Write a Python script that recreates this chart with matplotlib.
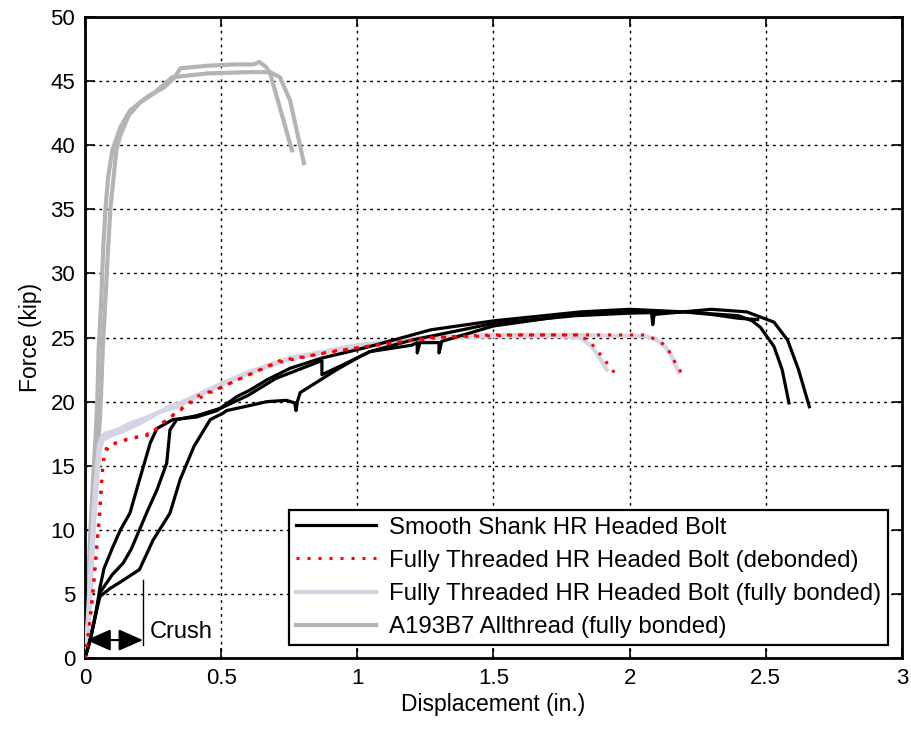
#!/usr/bin/env python

"""Force vs displacement for headed bolt and allthread pullout tests.
"""

import matplotlib
matplotlib.use('Agg')
import matplotlib.pyplot as plt

# Smooth shank HR headed bolt (three tests)
smooth_a_x = [0, 0.02, 0.04, 0.055, 0.07, 0.103, 0.13, 0.165, 0.2, 0.24, 0.264,
              0.323, 0.41, 0.485, 0.558, 0.606, 0.668, 0.753, 0.87, 0.97, 1.046,
              1.27, 1.5, 1.82, 2.0, 2.2, 2.4, 2.45, 2.48, 2.53, 2.56, 2.585]
smooth_a_y = [0, 1.5, 3.5, 5.5, 7.0, 8.7, 10.0, 11.3, 13.9, 16.8, 17.9,
              18.6, 18.8, 19.3, 20.4, 20.9, 21.7, 22.6, 23.4, 23.9, 24.3,
              25.6, 26.3, 27.0, 27.2, 27.0, 26.7, 26.3, 25.8, 24.3, 22.5, 19.9]

smooth_b_x = [0, 0.02, 0.04, 0.055, 0.1, 0.14, 0.17, 0.2, 0.23, 0.264, 0.3,
              0.312, 0.337, 0.41, 0.5, 0.6, 0.7, 0.87, 0.87, 0.95, 1.046, 1.2,
              1.22, 1.22, 1.23, 1.30, 1.30, 1.31, 1.5, 1.8, 2.0, 2.08, 2.085,
              2.09, 2.3, 2.43, 2.53, 2.58, 2.62, 2.66]
smooth_b_y = [0, 1.5, 3.5, 5.1, 6.5, 7.4, 8.5, 10.0, 11.5, 13.1, 15.2,
              17.8, 18.6, 18.9, 19.5, 20.5, 21.8, 23.2, 22.1, 22.9, 23.9, 24.4,
              24.6, 23.8, 24.6, 24.6, 23.8, 24.7, 25.9, 26.8, 27.0, 27.0, 26.0,
              26.8, 27.2, 27.0, 26.2, 24.8, 22.5, 19.6]

smooth_c_x = [0, 0.02, 0.04, 0.055, 0.09, 0.128, 0.2, 0.25, 0.312, 0.349, 0.4,
              0.46, 0.507, 0.52, 0.606, 0.668, 0.74, 0.77, 0.775, 0.78, 0.79,
              0.85, 0.925, 1.0, 1.046, 1.2, 1.5, 1.8, 2.0, 2.2, 2.3, 2.4, 2.47]
smooth_c_y = [0, 1.5, 3.5, 4.8, 5.4, 5.9, 6.9, 9.2, 11.3, 13.9, 16.5,
              18.6, 19.1, 19.3, 19.7, 20.0, 20.1, 19.9, 19.3, 20.0, 20.7,
              21.5, 22.5, 23.4, 23.9, 24.8, 26.1, 26.7, 26.9, 27.0, 26.8, 26.5,
              26.4]

# Fully threaded HR headed bolt, debonded (two tests)
debond_a_x = [0, 0.01, 0.02, 0.03, 0.04, 0.05, 0.055, 0.066, 0.08, 0.12, 0.165,
              0.24, 0.275, 0.349, 0.41, 0.5, 0.56, 0.716, 1.0, 1.27, 1.5, 1.8,
              1.85, 1.88, 1.91, 1.946]
debond_a_y = [0, 1.5, 3.5, 5.5, 8.0, 10.5, 12.0, 15.2, 16.5, 16.8, 17.1,
              17.4, 18.2, 19.3, 20.4, 21.1, 21.7, 23.2, 24.2, 25.0, 25.2, 25.2,
              24.8, 24.0, 23.2, 22.2]

debond_b_x = [0, 0.012, 0.025, 0.035, 0.045, 0.055, 0.062, 0.07, 0.09, 0.14,
              0.2, 0.25, 0.3, 0.37, 0.45, 0.55, 0.7, 0.9, 1.1, 1.3, 1.6, 1.9,
              2.06, 2.1, 2.13, 2.155, 2.17, 2.195]
debond_b_y = [0, 1.8, 4.0, 6.5, 9.0, 11.3, 14.0, 15.8, 16.6, 17.0,
              17.3, 17.6, 18.6, 19.7, 20.6, 21.6, 23.0, 23.9, 24.5, 25.0, 25.2,
              25.2, 25.2, 24.8, 24.4, 23.6, 22.9, 22.1]

# Fully threaded HR headed bolt, fully bonded (two tests)
bonded_a_x = [0, 0.01, 0.02, 0.03, 0.04, 0.05, 0.06, 0.073, 0.12, 0.165, 0.22,
              0.275, 0.337, 0.4, 0.5, 0.6, 0.75, 1.0, 1.25, 1.5, 1.75, 1.82,
              1.86, 1.89, 1.916]
bonded_a_y = [0, 3.0, 7.0, 11.0, 14.0, 16.5, 17.2, 17.5, 17.8, 18.3, 18.7,
              19.2, 19.6, 20.3, 21.3, 22.2, 23.3, 24.3, 24.9, 25.1, 25.1, 25.0,
              24.3, 23.4, 22.5]

bonded_b_x = [0, 0.015, 0.025, 0.035, 0.045, 0.055, 0.065, 0.09, 0.14, 0.2,
              0.26, 0.3, 0.35, 0.42, 0.5, 0.6, 0.75, 1.0, 1.25, 1.5, 1.8, 2.06,
              2.1, 2.13, 2.155, 2.18]
bonded_b_y = [0, 3.0, 7.0, 11.0, 14.0, 16.3, 17.0, 17.3, 17.7, 18.3,
              19.0, 19.5, 19.9, 20.6, 21.4, 22.3, 23.4, 24.4, 25.0, 25.2, 25.2,
              25.1, 24.8, 24.3, 23.5, 22.3]

# A193B7 allthread, fully bonded (two tests)
allthread_a_x = [0, 0.006, 0.012, 0.02, 0.03, 0.038, 0.045, 0.05, 0.06, 0.067,
                 0.075, 0.085, 0.1, 0.12, 0.13, 0.165, 0.23, 0.29, 0.33, 0.35,
                 0.45, 0.55, 0.62, 0.64, 0.665, 0.68, 0.76]
allthread_a_y = [0, 3, 6, 10, 14, 17, 20, 24, 28, 32,
                 35, 37.5, 39.6, 40.8, 41.4, 42.7, 43.8, 44.5, 45.3, 46.0,
                 46.2, 46.3, 46.3, 46.5, 46.1, 45.6, 39.6]

allthread_b_x = [0, 0.012, 0.02, 0.03, 0.04, 0.05, 0.058, 0.065, 0.075, 0.085,
                 0.093, 0.105, 0.115, 0.13, 0.16, 0.2, 0.25, 0.32, 0.45, 0.6,
                 0.68, 0.716, 0.753, 0.804]
allthread_b_y = [0, 3, 6, 10, 14, 17, 20, 24, 28, 32,
                 35, 37.5, 39.6, 40.8, 42.3, 43.3, 44.0, 45.3, 45.6, 45.7,
                 45.7, 45.3, 43.5, 38.6]

legend_labels = ['Smooth Shank HR Headed Bolt',
                 'Fully Threaded HR Headed Bolt (debonded)',
                 'Fully Threaded HR Headed Bolt (fully bonded)',
                 'A193B7 Allthread (fully bonded)']

x_ticks = [0, 0.5, 1, 1.5, 2, 2.5, 3]
x_tick_labels = ['0', '0.5', '1', '1.5', '2', '2.5', '3']
y_ticks = [0, 5, 10, 15, 20, 25, 30, 35, 40, 45, 50]

crush_end = 0.213


def main():
    plt.rcParams['font.family'] = ['Liberation Sans', 'DejaVu Sans']
    fig = plt.figure(figsize=(9.12, 7.3), dpi=100)
    ax = fig.add_axes([0.0932, 0.0986, 0.8958, 0.8781])

    gray = '#b4b4b4'
    lavender = '#d4d4e4'

    ax.plot(allthread_a_x, allthread_a_y, color=gray, lw=3, zorder=2)
    ax.plot(allthread_b_x, allthread_b_y, color=gray, lw=3, zorder=2)
    ax.plot(bonded_a_x, bonded_a_y, color=lavender, lw=3, zorder=3)
    ax.plot(bonded_b_x, bonded_b_y, color=lavender, lw=3, zorder=3)
    ax.plot(smooth_a_x, smooth_a_y, color='black', lw=2.3, zorder=4)
    ax.plot(smooth_b_x, smooth_b_y, color='black', lw=2.3, zorder=4)
    ax.plot(smooth_c_x, smooth_c_y, color='black', lw=2.3, zorder=4)
    ax.plot(debond_a_x, debond_a_y, color='red', lw=2.2, dashes=(1, 2.6),
            zorder=5)
    ax.plot(debond_b_x, debond_b_y, color='red', lw=2.2, dashes=(1, 2.6),
            zorder=5)

    # legend proxies
    h1, = ax.plot([], [], color='black', lw=2.3)
    h2, = ax.plot([], [], color='red', lw=2.2, dashes=(1, 2.6))
    h3, = ax.plot([], [], color=lavender, lw=3)
    h4, = ax.plot([], [], color=gray, lw=3)
    leg = ax.legend([h1, h2, h3, h4], legend_labels, loc='lower right',
                    bbox_to_anchor=(0.983, 0.02), fontsize=17.3,
                    fancybox=False, framealpha=1, edgecolor='black',
                    handlelength=3.3, borderpad=0.3, labelspacing=0.46,
                    handletextpad=0.55, borderaxespad=0)
    leg.get_frame().set_linewidth(1.6)
    leg.set_zorder(10)

    # crush annotation
    ax.annotate('', xy=(0.005, 1.4), xytext=(crush_end, 1.4),
                arrowprops=dict(arrowstyle='<|-|>,head_length=0.5,head_width=0.22',
                                color='black', lw=1.5, mutation_scale=30,
                                shrinkA=0, shrinkB=0),
                zorder=6)
    ax.plot([crush_end, crush_end], [1.0, 6.1], color='black', lw=1,
            zorder=6)
    ax.text(crush_end + 0.025, 2.0, 'Crush', fontsize=17, va='center',
            ha='left', zorder=6)

    ax.set_xlim(0, 3)
    ax.set_ylim(0, 50)
    ax.set_xticks(x_ticks)
    ax.set_xticklabels(x_tick_labels)
    ax.set_yticks(y_ticks)
    ax.grid(True, color='black', linestyle=(0, (2, 3)), lw=1)
    ax.set_axisbelow(True)
    ax.tick_params(direction='in', length=7, width=1.2, top=True, right=True,
                   labelsize=16, pad=7)
    for spine in ax.spines.values():
        spine.set_linewidth(2)
    ax.set_xlabel('Displacement (in.)', fontsize=16.5, labelpad=3)
    ax.set_ylabel('Force (kip)', fontsize=16.5, labelpad=6)

    fig.savefig('out.png', dpi=100)


if __name__ == '__main__':
    main()
